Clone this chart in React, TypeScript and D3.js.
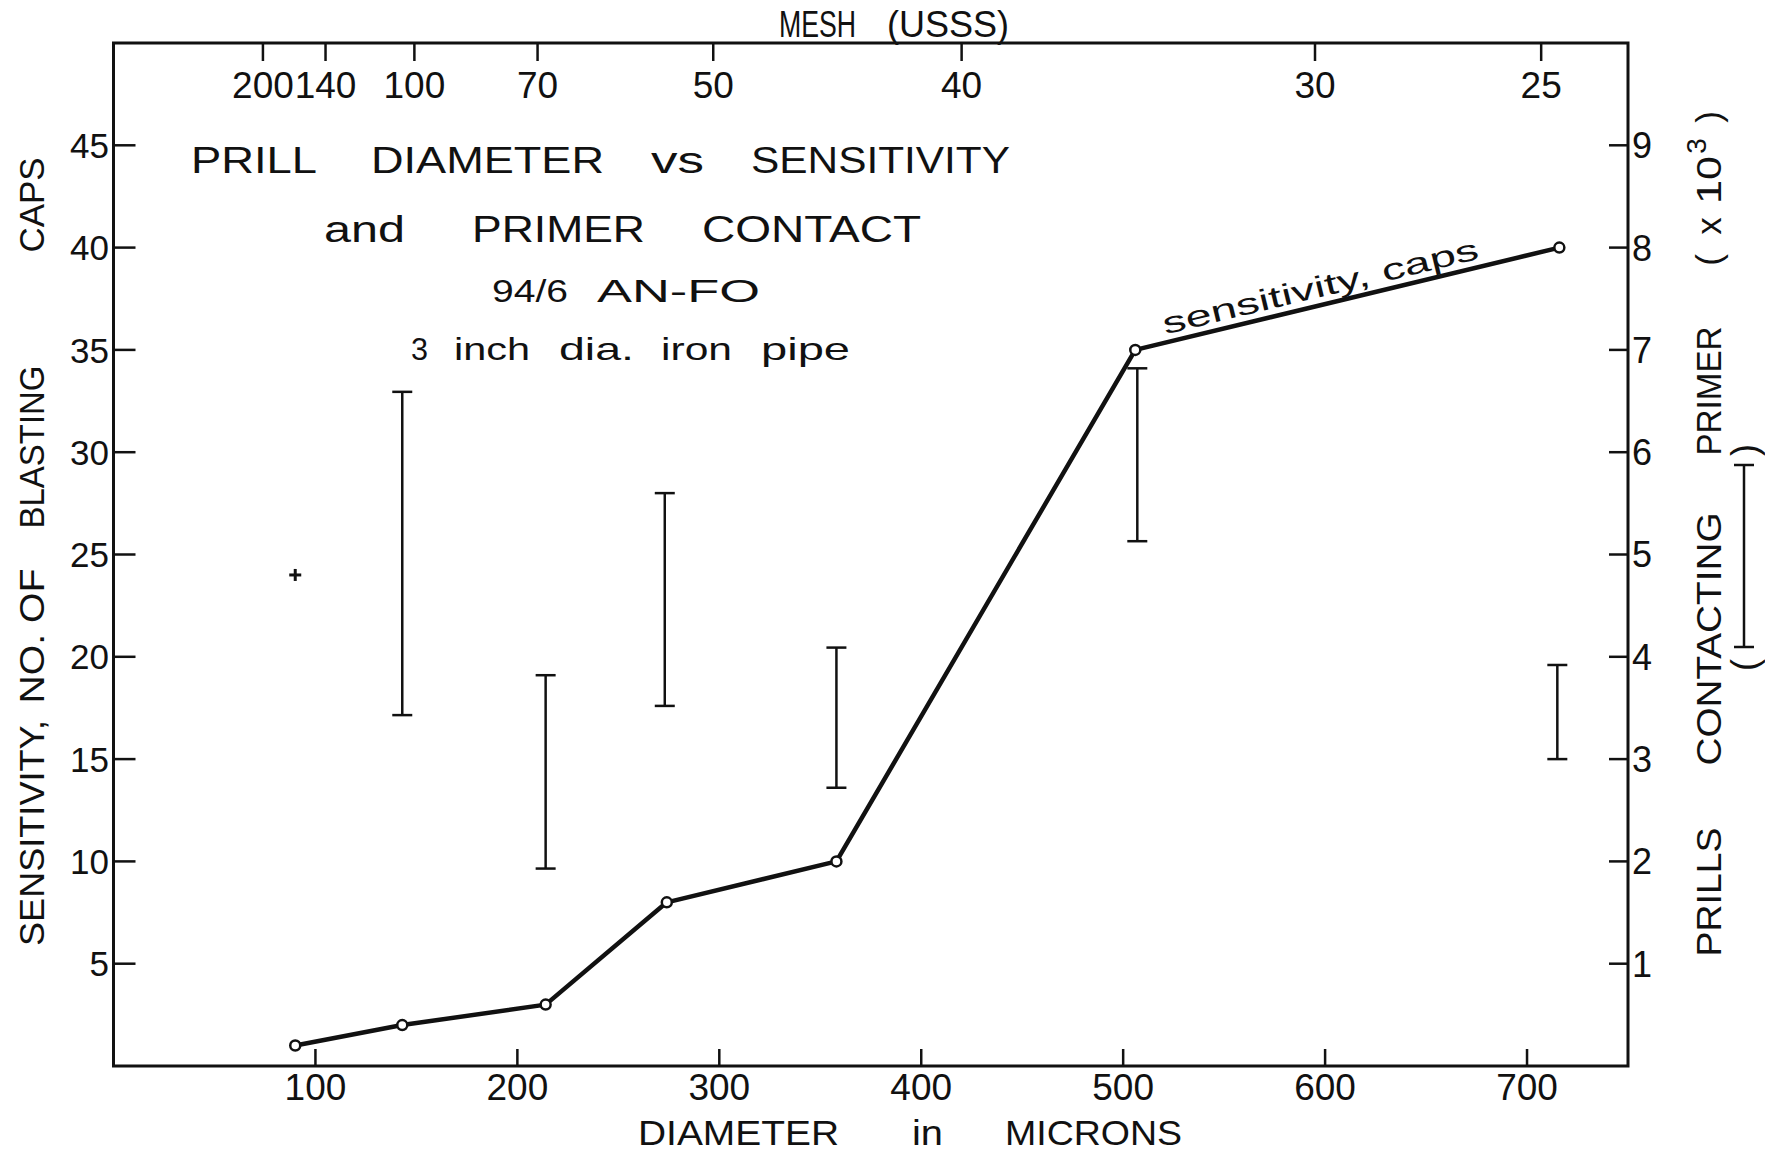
import React from "react";
import * as d3 from "d3";

// ---- data ----
const diameterMicrons = [90, 143, 214, 274, 358, 506, 716];
const sensitivityCaps = [1, 2, 3, 8, 10, 35, 40];

const primerDiameter = [90, 143, 214, 273, 358, 507, 715];
const primerHigh = [4.8, 6.59, 3.82, 5.6, 4.09, 6.82, 3.92];
const primerLow = [4.8, 3.43, 1.93, 3.52, 2.72, 5.13, 3.0];

const bottomTicks = [100, 200, 300, 400, 500, 600, 700];
const leftTicks = [5, 10, 15, 20, 25, 30, 35, 40, 45];
const rightTicks = [1, 2, 3, 4, 5, 6, 7, 8, 9];
const meshLabels = ["200", "140", "100", "70", "50", "40", "30", "25"];
const meshMicrons = [74, 105, 149, 210, 297, 420, 595, 707];

const titleLines = [
  ["PRILL", "DIAMETER", "vs", "SENSITIVITY"],
  ["and", "PRIMER", "CONTACT"],
  ["94/6", "AN-FO"],
  ["3", "inch", "dia.", "iron", "pipe"],
];

// ---- layout ----
const W = 1765;
const H = 1154;
const FONT = "'Liberation Sans', Arial, sans-serif";
const titleLayout = [
  { y: 173, size: 37, words: [[191, 126], [371, 233], [651, 53], [751, 259]] },
  { y: 242, size: 37, words: [[324, 81], [472, 173], [702, 219]] },
  { y: 302, size: 32, words: [[492, 76], [597, 163]] },
  { y: 360, size: 32, words: [[411, 17], [454, 76], [559, 75], [661, 71], [761, 89]] },
];

export default function App() {
  const x = d3.scaleLinear().domain([0, 750]).range([113.5, 1628]);
  const y = d3.scaleLinear().domain([0, 50]).range([1066, 43]);
  const yR = d3.scaleLinear().domain([0, 10]).range([1066, 43]);

  const pts: [number, number][] = diameterMicrons.map((d, i) => [d, sensitivityCaps[i]]);
  const line = d3
    .line<[number, number]>()
    .x((d) => x(d[0]))
    .y((d) => y(d[1]));

  const [x0, y0] = [x(diameterMicrons[5]), y(sensitivityCaps[5])];
  const [x1, y1] = [x(diameterMicrons[6]), y(sensitivityCaps[6])];
  const ang = (Math.atan2(y1 - y0, x1 - x0) * 180) / Math.PI;
  const f = 0.075;
  const lx = x0 + (x1 - x0) * f;
  const ly = y0 + (y1 - y0) * f;

  const left = x.range()[0];
  const right = x.range()[1];
  const top = y.range()[1];
  const bottom = y.range()[0];

  const rot = (cx: number, cy: number) => `translate(${cx},${cy}) rotate(-90)`;

  return (
    <svg
      width={W}
      height={H}
      style={{ position: "absolute", left: 0, top: 0, background: "#fff" }}
      fontFamily={FONT}
    >
      <rect x={0} y={0} width={W} height={H} fill="#fff" />
      {/* frame */}
      <path
        d={`M${left},${top} L${right},${top} L${right},${bottom} L${left},${bottom} Z`}
        fill="none"
        stroke="#111"
        strokeWidth={3}
      />

      {/* bottom ticks */}
      {bottomTicks.map((t) => (
        <g key={"b" + t}>
          <line x1={x(t)} x2={x(t)} y1={bottom} y2={bottom - 17} stroke="#111" strokeWidth={2.5} />
          <text x={x(t)} y={1100} fontSize={37} textAnchor="middle" fill="#111">
            {t}
          </text>
        </g>
      ))}

      {/* top mesh ticks */}
      {meshMicrons.map((m, i) => (
        <g key={"m" + i}>
          <line x1={x(m)} x2={x(m)} y1={top} y2={top + 18} stroke="#111" strokeWidth={2.5} />
          <text x={x(m)} y={98} fontSize={37} textAnchor="middle" fill="#111">
            {meshLabels[i]}
          </text>
        </g>
      ))}

      {/* left ticks */}
      {leftTicks.map((t) => (
        <g key={"l" + t}>
          <line x1={left} x2={left + 22} y1={y(t)} y2={y(t)} stroke="#111" strokeWidth={2.5} />
          <text x={109} y={y(t)} dy="0.36em" fontSize={35} textAnchor="end" fill="#111">
            {t}
          </text>
        </g>
      ))}

      {/* right ticks */}
      {rightTicks.map((t) => (
        <g key={"r" + t}>
          <line x1={right - 19} x2={right} y1={yR(t)} y2={yR(t)} stroke="#111" strokeWidth={2.5} />
          <text x={right + 4} y={yR(t)} dy="0.36em" fontSize={36} textAnchor="start" fill="#111">
            {t}
          </text>
        </g>
      ))}

      {/* axis titles */}
      <text x={638} y={1145} fontSize={35} textLength={201} lengthAdjust="spacingAndGlyphs" fill="#111">DIAMETER</text>
      <text x={912} y={1145} fontSize={35} textLength={31} lengthAdjust="spacingAndGlyphs" fill="#111">in</text>
      <text x={1005} y={1145} fontSize={35} textLength={177} lengthAdjust="spacingAndGlyphs" fill="#111">MICRONS</text>

      <text x={779} y={37} fontSize={37} textLength={77} lengthAdjust="spacingAndGlyphs" fill="#111">MESH</text>
      <text x={887} y={37} fontSize={36} textLength={122} lengthAdjust="spacingAndGlyphs" fill="#111">(USSS)</text>

      {/* left axis label */}
      {[
        ["SENSITIVITY,", 833, 226],
        ["NO. OF", 636, 135],
        ["BLASTING", 447, 163],
        ["CAPS", 205, 95],
      ].map(([s, cy, len]) => (
        <text
          key={s as string}
          transform={rot(31, cy as number)}
          dy="0.36em"
          fontSize={35}
          textAnchor="middle"
          textLength={len as number}
          lengthAdjust="spacingAndGlyphs"
          fill="#111"
        >
          {s}
        </text>
      ))}

      {/* right axis label */}
      {[
        ["PRILLS", 892, 129],
        ["CONTACTING", 639, 253],
        ["PRIMER", 391, 129],
      ].map(([s, cy, len]) => (
        <text
          key={s as string}
          transform={rot(1708, cy as number)}
          dy="0.36em"
          fontSize={35}
          textAnchor="middle"
          textLength={len as number}
          lengthAdjust="spacingAndGlyphs"
          fill="#111"
        >
          {s}
        </text>
      ))}
      <text transform={rot(1708, 260)} dy="0.36em" fontSize={35} textAnchor="middle" fill="#111">(</text>
      <text transform={rot(1708, 226)} dy="0.36em" fontSize={35} textAnchor="middle" fill="#111">x</text>
      <text transform={rot(1708, 180)} dy="0.36em" fontSize={35} textAnchor="middle" textLength={48} lengthAdjust="spacingAndGlyphs" fill="#111">10</text>
      <text transform={rot(1696, 146)} dy="0.36em" fontSize={28} textAnchor="middle" fill="#111">3</text>
      <text transform={rot(1708, 117)} dy="0.36em" fontSize={35} textAnchor="middle" fill="#111">)</text>

      {/* legend error-bar symbol */}
      <g stroke="#111" strokeWidth={2.5}>
        <line x1={1744} x2={1744} y1={465} y2={647} />
        <line x1={1734} x2={1754} y1={465} y2={465} />
        <line x1={1734} x2={1754} y1={647} y2={647} />
      </g>
      <text transform={rot(1744, 665)} dy="0.36em" fontSize={36} textAnchor="middle" fill="#111">(</text>
      <text transform={rot(1744, 450)} dy="0.36em" fontSize={36} textAnchor="middle" fill="#111">)</text>

      {/* title */}
      {titleLines.map((words, li) =>
        words.map((w, wi) => (
          <text
            key={li + "-" + wi}
            x={titleLayout[li].words[wi][0]}
            y={titleLayout[li].y}
            fontSize={titleLayout[li].size}
            textLength={titleLayout[li].words[wi][1]}
            lengthAdjust="spacingAndGlyphs"
            fill="#111"
          >
            {w}
          </text>
        ))
      )}

      {/* primer contact error bars */}
      {primerDiameter.map((d, i) => {
        const cx = x(d);
        const hi = yR(primerHigh[i]);
        const lo = yR(primerLow[i]);
        if (primerHigh[i] === primerLow[i]) {
          return (
            <g key={"e" + i} stroke="#111" strokeWidth={3}>
              <line x1={cx - 6} x2={cx + 6} y1={hi} y2={hi} />
              <line x1={cx} x2={cx} y1={hi - 6} y2={hi + 6} />
            </g>
          );
        }
        return (
          <g key={"e" + i} stroke="#111" strokeWidth={2.5}>
            <line x1={cx} x2={cx} y1={hi} y2={lo} />
            <line x1={cx - 10} x2={cx + 10} y1={hi} y2={hi} />
            <line x1={cx - 10} x2={cx + 10} y1={lo} y2={lo} />
          </g>
        );
      })}

      {/* sensitivity line */}
      <path d={line(pts) || ""} fill="none" stroke="#111" strokeWidth={4.5} strokeLinejoin="round" />
      {pts.map((p, i) => (
        <circle key={"c" + i} cx={x(p[0])} cy={y(p[1])} r={5} fill="#fff" stroke="#111" strokeWidth={2.5} />
      ))}
      <text
        transform={`translate(${lx},${ly}) rotate(${ang}) translate(0,-8)`}
        fontSize={30}
        textLength={324}
        lengthAdjust="spacingAndGlyphs"
        fill="#111"
      >
        sensitivity, caps
      </text>
    </svg>
  );
}
